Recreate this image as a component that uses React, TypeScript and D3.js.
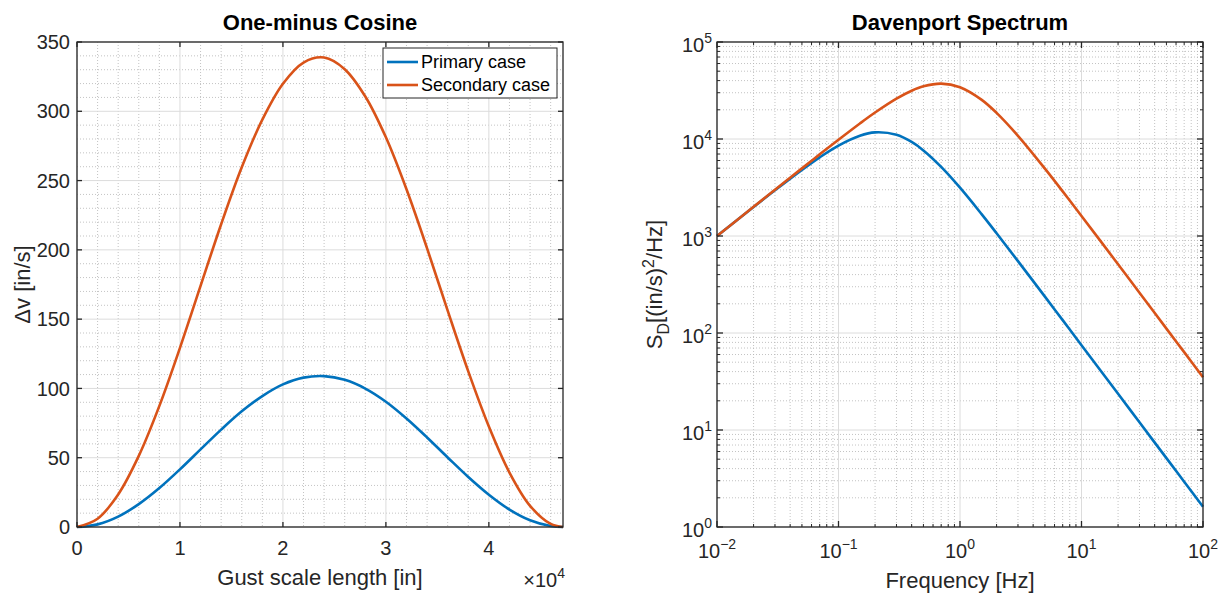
import * as d3 from "d3";

// One-minus cosine gust profiles (x in units of 1e4 in)
const gustLength = [0, 0.2, 0.4, 0.6, 0.8, 1.0, 1.2, 1.4, 1.6, 1.8, 2.0, 2.2, 2.4, 2.6, 2.8, 3.0, 3.2, 3.4, 3.6, 3.8, 4.0, 4.2, 4.4, 4.6, 4.72];
const primaryDv = [0, 1.9, 7.5, 16.5, 28.1, 41.6, 56.0, 70.3, 83.5, 94.5, 102.9, 107.8, 108.9, 106.2, 99.9, 90.4, 78.3, 64.6, 50.2, 36.1, 23.3, 12.6, 4.9, 0.7, 0];
const secondaryDv = [0, 6.0, 23.5, 51.3, 87.4, 129.3, 174.0, 218.5, 259.6, 294.0, 319.9, 335.2, 338.8, 330.4, 310.7, 281.2, 243.7, 201.1, 156.1, 112.3, 72.5, 39.3, 15.3, 2.2, 0];

// Davenport spectrum
const freqHz = [0.01, 0.02, 0.03, 0.05, 0.07, 0.1, 0.15, 0.2, 0.3, 0.4, 0.5, 0.7, 1, 1.5, 2, 3, 5, 7, 10, 20, 30, 50, 70, 100];
const primaryPsd = [998, 1987, 2957, 4802, 6474, 8561, 10812, 11695, 11051, 9315, 7627, 5154, 3146, 1691, 1068, 551, 237, 135.8, 74.9, 23.6, 12.0, 5.13, 2.93, 1.62];
const secondaryPsd = [1000, 1999, 2996, 4980, 6944, 9828, 14462, 18755, 26069, 31452, 34931, 37254, 34230, 25493, 18605, 10791, 4950, 2884, 1610, 511, 260, 111, 63.5, 35.0];

const gustTicks = [0, 1, 2, 3, 4];
const dvTicks = [0, 50, 100, 150, 200, 250, 300, 350];
const freqExps = [-2, -1, 0, 1, 2];
const psdExps = [0, 1, 2, 3, 4, 5];
const legendNames = ["Primary case", "Secondary case"];

const FONT = "'Liberation Sans', Arial, Helvetica, sans-serif";
const INK = "#262626";
const BLUE = "#0072BD";
const ORANGE = "#D95319";
const MAJOR = "#dcdcdc";
const MINOR = "#b4b4b4";
const TICK_FS = 20;
const LABEL_FS = 22;

const W = 1223, H = 593;
const top = 42, bottom = 527;

function Pow({ x, y, exp, anchor }: { x: number; y: number; exp: number | string; anchor: string }) {
  return (
    <text x={x} y={y} textAnchor={anchor} fontSize={TICK_FS} fill={INK}>
      10<tspan dy={-9} fontSize={14}>{exp}</tspan>
    </text>
  );
}

function GustPanel() {
  const left = 77, right = 563;
  const x = d3.scaleLinear().domain([0, 4.72]).range([left, right]);
  const y = d3.scaleLinear().domain([0, 350]).range([bottom, top]);
  const minorX = d3.range(1, 24).filter((i) => i % 5 !== 0).map((i) => i * 0.2);
  const minorY = d3.range(10, 350, 10).filter((v) => v % 50 !== 0);
  const line = (vals: number[]) =>
    d3.line<number>().x((_, i) => x(gustLength[i])).y((d) => y(d)).curve(d3.curveCatmullRom)(vals) || "";

  return (
    <g fontFamily={FONT}>
      {minorX.map((v) => (
        <line key={"mx" + v} x1={x(v)} x2={x(v)} y1={top} y2={bottom} stroke={MINOR} strokeDasharray="1,2" strokeWidth={0.8} />
      ))}
      {minorY.map((v) => (
        <line key={"my" + v} x1={left} x2={right} y1={y(v)} y2={y(v)} stroke={MINOR} strokeDasharray="1,2" strokeWidth={0.8} />
      ))}
      {gustTicks.map((v) => (
        <line key={"gx" + v} x1={x(v)} x2={x(v)} y1={top} y2={bottom} stroke={MAJOR} strokeWidth={1} />
      ))}
      {dvTicks.map((v) => (
        <line key={"gy" + v} x1={left} x2={right} y1={y(v)} y2={y(v)} stroke={MAJOR} strokeWidth={1} />
      ))}

      <path d={line(primaryDv)} fill="none" stroke={BLUE} strokeWidth={2.6} />
      <path d={line(secondaryDv)} fill="none" stroke={ORANGE} strokeWidth={2.6} />

      <rect x={left} y={top} width={right - left} height={bottom - top} fill="none" stroke={INK} strokeWidth={1.3} />
      {gustTicks.map((v) => (
        <g key={"t" + v}>
          <line x1={x(v)} x2={x(v)} y1={bottom} y2={bottom - 5} stroke={INK} strokeWidth={1.3} />
          <line x1={x(v)} x2={x(v)} y1={top} y2={top + 5} stroke={INK} strokeWidth={1.3} />
          <text x={x(v)} y={bottom + 28} textAnchor="middle" fontSize={TICK_FS} fill={INK}>{v}</text>
        </g>
      ))}
      {dvTicks.map((v) => (
        <g key={"u" + v}>
          <line x1={left} x2={left + 5} y1={y(v)} y2={y(v)} stroke={INK} strokeWidth={1.3} />
          <line x1={right} x2={right - 5} y1={y(v)} y2={y(v)} stroke={INK} strokeWidth={1.3} />
          <text x={left - 7} y={y(v)} dy="0.36em" textAnchor="end" fontSize={TICK_FS} fill={INK}>{v}</text>
        </g>
      ))}

      <text x={(left + right) / 2} y={30} textAnchor="middle" fontSize={LABEL_FS} fontWeight="bold" fill="#000">One-minus Cosine</text>
      <text x={(left + right) / 2} y={585} textAnchor="middle" fontSize={LABEL_FS} fill={INK}>Gust scale length [in]</text>
      <text x={right + 2} y={587} textAnchor="end" fontSize={TICK_FS} fill={INK}>
        ×10<tspan dy={-9} fontSize={14}>4</tspan>
      </text>
      <text transform={`translate(30,${(top + bottom) / 2}) rotate(-90)`} textAnchor="middle" fontSize={LABEL_FS} fill={INK}>Δv [in/s]</text>

      <g>
        <rect x={383} y={48} width={174} height={50} fill="#fff" stroke={INK} strokeWidth={1} />
        {legendNames.map((n, i) => (
          <g key={n}>
            <line x1={387} x2={418} y1={62 + i * 23} y2={62 + i * 23} stroke={i === 0 ? BLUE : ORANGE} strokeWidth={2.6} />
            <text x={421} y={62 + i * 23} dy="0.36em" fontSize={18} fill="#000">{n}</text>
          </g>
        ))}
      </g>
    </g>
  );
}

function SpectrumPanel() {
  const left = 717, right = 1203;
  const x = d3.scaleLog().domain([1e-2, 1e2]).range([left, right]);
  const y = d3.scaleLog().domain([1, 1e5]).range([bottom, top]);
  const minorF = freqExps.slice(0, -1).flatMap((e) => d3.range(2, 10).map((m) => m * Math.pow(10, e)));
  const minorS = psdExps.slice(0, -1).flatMap((e) => d3.range(2, 10).map((m) => m * Math.pow(10, e)));
  const line = (vals: number[]) =>
    d3.line<number>().x((_, i) => x(freqHz[i])).y((d) => y(d)).curve(d3.curveCatmullRom)(vals) || "";

  return (
    <g fontFamily={FONT}>
      {minorF.map((v) => (
        <line key={"mf" + v} x1={x(v)} x2={x(v)} y1={top} y2={bottom} stroke={MINOR} strokeDasharray="1,2" strokeWidth={0.8} />
      ))}
      {minorS.map((v) => (
        <line key={"ms" + v} x1={left} x2={right} y1={y(v)} y2={y(v)} stroke={MINOR} strokeDasharray="1,2" strokeWidth={0.8} />
      ))}
      {freqExps.map((e) => (
        <line key={"gf" + e} x1={x(10 ** e)} x2={x(10 ** e)} y1={top} y2={bottom} stroke={MAJOR} strokeWidth={1} />
      ))}
      {psdExps.map((e) => (
        <line key={"gs" + e} x1={left} x2={right} y1={y(10 ** e)} y2={y(10 ** e)} stroke={MAJOR} strokeWidth={1} />
      ))}

      <path d={line(primaryPsd)} fill="none" stroke={BLUE} strokeWidth={2.6} />
      <path d={line(secondaryPsd)} fill="none" stroke={ORANGE} strokeWidth={2.6} />

      <rect x={left} y={top} width={right - left} height={bottom - top} fill="none" stroke={INK} strokeWidth={1.3} />
      {minorF.map((v) => (
        <g key={"tf" + v}>
          <line x1={x(v)} x2={x(v)} y1={bottom} y2={bottom - 3} stroke={INK} strokeWidth={1} />
          <line x1={x(v)} x2={x(v)} y1={top} y2={top + 3} stroke={INK} strokeWidth={1} />
        </g>
      ))}
      {minorS.map((v) => (
        <g key={"ts" + v}>
          <line x1={left} x2={left + 3} y1={y(v)} y2={y(v)} stroke={INK} strokeWidth={1} />
          <line x1={right} x2={right - 3} y1={y(v)} y2={y(v)} stroke={INK} strokeWidth={1} />
        </g>
      ))}
      {freqExps.map((e) => (
        <g key={"xf" + e}>
          <line x1={x(10 ** e)} x2={x(10 ** e)} y1={bottom} y2={bottom - 6} stroke={INK} strokeWidth={1.3} />
          <line x1={x(10 ** e)} x2={x(10 ** e)} y1={top} y2={top + 6} stroke={INK} strokeWidth={1.3} />
          <Pow x={x(10 ** e)} y={bottom + 31} exp={e < 0 ? "\u2212" + -e : e} anchor="middle" />
        </g>
      ))}
      {psdExps.map((e) => (
        <g key={"ys" + e}>
          <line x1={left} x2={left + 6} y1={y(10 ** e)} y2={y(10 ** e)} stroke={INK} strokeWidth={1.3} />
          <line x1={right} x2={right - 6} y1={y(10 ** e)} y2={y(10 ** e)} stroke={INK} strokeWidth={1.3} />
          <Pow x={left - 5} y={y(10 ** e) + 10} exp={e} anchor="end" />
        </g>
      ))}

      <text x={(left + right) / 2} y={30} textAnchor="middle" fontSize={LABEL_FS} fontWeight="bold" fill="#000">Davenport Spectrum</text>
      <text x={(left + right) / 2} y={588} textAnchor="middle" fontSize={LABEL_FS} fill={INK}>Frequency [Hz]</text>
      <text transform={`translate(662,${(top + bottom) / 2}) rotate(-90)`} textAnchor="middle" fontSize={LABEL_FS} fill={INK}>
        S<tspan dy={7} fontSize={16}>D</tspan><tspan dy={-7}>[(in/s)</tspan><tspan dy={-8} fontSize={16}>2</tspan><tspan dy={8}>/Hz]</tspan>
      </text>
    </g>
  );
}

export default function App() {
  return (
    <svg width={W} height={H} viewBox={`0 0 ${W} ${H}`} style={{ position: "absolute", left: 0, top: 0, background: "#fff" }}>
      <GustPanel />
      <SpectrumPanel />
    </svg>
  );
}
